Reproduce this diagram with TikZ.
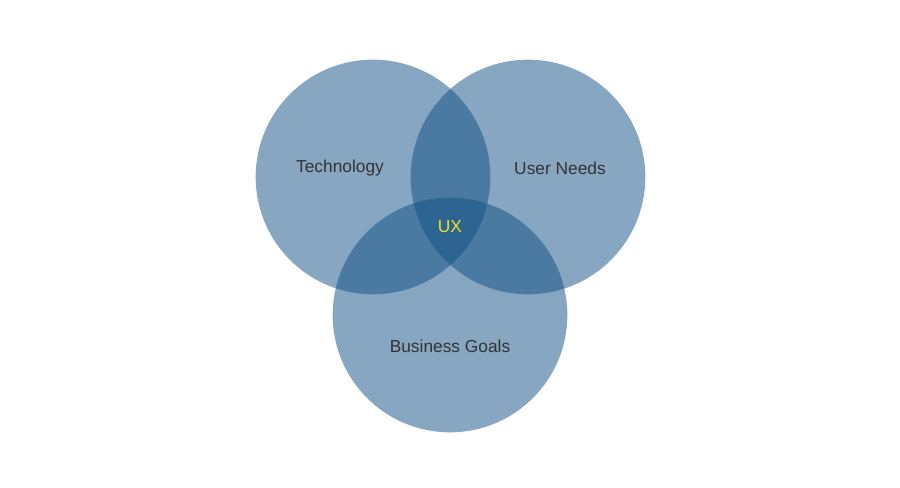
\documentclass[tikz,border=0pt]{standalone}
\usepackage{fontspec}
\setmainfont{Liberation Sans}
\definecolor{vc}{RGB}{15,78,131}
\definecolor{tx}{RGB}{51,51,51}
\definecolor{ux}{RGB}{240,225,30}
\begin{document}
\begin{tikzpicture}[x=0.75pt,y=-0.75pt,
  venn/.style={circle,fill=vc,fill opacity=0.5,minimum size=176pt,inner sep=0pt},
  lbl/.style={text=tx,font=\fontsize{13pt}{15pt}\selectfont}]
\useasboundingbox (0,0) rectangle (900,488);
\node[venn] (t) at (373,177) {};
\node[venn] (u) at (528,177) {};
\node[venn] (b) at (450,315) {};
\node[lbl] (tl) at (340,168) {Technology};
\node[lbl] (ul) at (560,168) {User Needs};
\node[lbl] (bl) at (450,346) {Business Goals};
\node[lbl,text=ux] (x) at (450,227) {UX};
\end{tikzpicture}
\end{document}
